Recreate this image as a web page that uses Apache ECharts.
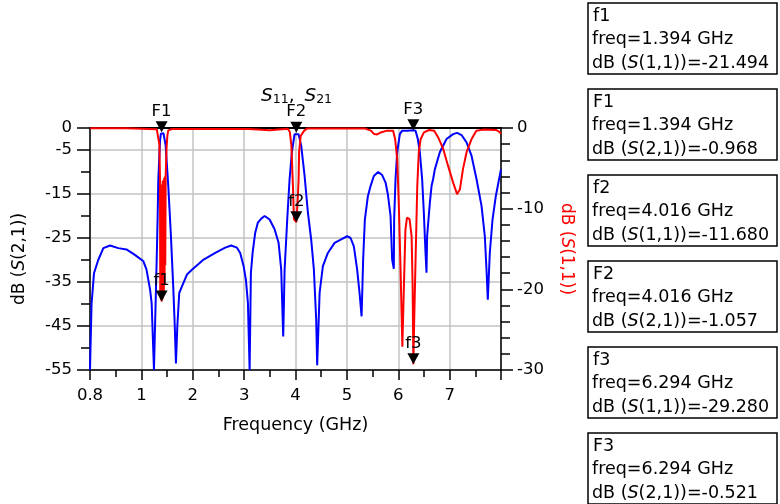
<!DOCTYPE html>
<html><head><meta charset="utf-8">
<script src="https://cdn.jsdelivr.net/npm/echarts@6/dist/echarts.min.js"></script>
<style>html,body{margin:0;padding:0;background:#fff}#c{width:780px;height:504px}</style>
</head><body><div id="c"></div>
<script>
const FONT = 'DejaVu Sans';
const xTickLabels = ['0.8','1','2','3','4','5','6','7',''];

// dB(S(2,1)) - blue, left axis
const s21Freq = [0,0.03,0.078,0.16,0.26,0.39,0.55,0.71,0.88,1.04,1.10,1.17,1.20,1.245,1.265,1.298,1.317,1.329,1.362,1.38,1.394,1.43,1.45,1.473,1.525,1.573,1.62,1.65,1.673,1.70,1.737,1.79,1.887,1.984,2.212,2.438,2.632,2.749,2.86,2.924,2.99,3.035,3.074,3.107,3.132,3.165,3.216,3.268,3.333,3.399,3.496,3.593,3.671,3.722,3.761,3.788,3.839,3.885,3.93,3.982,4.016,4.06,4.111,4.177,4.241,4.305,4.358,4.403,4.422,4.469,4.533,4.63,4.761,4.889,5.006,5.072,5.136,5.2,5.247,5.286,5.317,5.35,5.409,5.461,5.525,5.609,5.687,5.753,5.798,5.85,5.881,5.914,5.92,5.947,5.979,6.031,6.076,6.173,6.294,6.337,6.381,6.42,6.465,6.498,6.531,6.55,6.562,6.615,6.648,6.679,6.712,6.809,6.94,7.068,7.146,7.232,7.33,7.426,7.523,7.621,7.685,7.718,7.743,7.782,7.835,7.899,7.963,8.0];
const s21Db = [-55,-40,-33,-30,-27.3,-26.7,-27.3,-27.6,-28.9,-30.3,-32.2,-36.8,-39.8,-55,-55,-30,-20,-12,-3,-1.3,-0.968,-1.2,-1.6,-4,-13.5,-24,-36,-45,-53.5,-45,-37.5,-36,-33.3,-32.2,-29.9,-28.4,-27.2,-26.7,-27.2,-28.4,-31.4,-34.5,-39.8,-55,-32.9,-28.4,-23.8,-21.5,-20.6,-20.0,-20.8,-23,-26.1,-32.2,-47.4,-32.2,-20.8,-11.6,-5.5,-1.4,-1.057,-1.4,-4,-10.9,-19.2,-25.3,-32.2,-43.6,-53.9,-37.5,-31.4,-28.4,-26.1,-25.3,-24.6,-25,-26.9,-32.2,-37.5,-42.8,-29.9,-20.8,-15.5,-13.2,-10.9,-10.0,-10.7,-12.4,-15.1,-20,-29.9,-32,-20.8,-11.6,-5.5,-1.4,-0.6,-0.6,-0.521,-0.6,-2.5,-5.5,-11.6,-19.2,-28.4,-32.9,-24.6,-17,-13.2,-11.6,-9.4,-5.5,-2.5,-1.4,-1.1,-1.6,-3.3,-6.3,-11.6,-17.7,-24.6,-32.2,-39,-28.4,-20.8,-15.5,-11.6,-9.4];

// dB(S(1,1)) - red, right axis
const s11Freq = [0,0.70,0.72,1.30,1.33,1.35,1.362,1.368,1.374,1.38,1.387,1.394,1.401,1.408,1.415,1.422,1.43,1.437,1.444,1.451,1.458,1.465,1.473,1.49,1.505,1.523,1.60,3.09,3.11,3.50,3.53,3.85,3.89,3.92,3.95,3.97,3.995,4.016,4.04,4.06,4.07,4.10,4.17,4.23,5.35,5.41,5.47,5.53,5.59,5.66,5.78,5.90,5.94,5.98,6.01,6.045,6.08,6.09,6.11,6.14,6.17,6.22,6.26,6.28,6.294,6.31,6.34,6.37,6.40,6.435,6.50,6.60,6.70,6.78,6.875,6.97,7.07,7.145,7.20,7.26,7.33,7.425,7.52,7.65,7.91,7.98,8.0];
const s11Db = [-0.03,-0.03,-0.12,-0.15,-0.3,-2,-6,-21,-7,-21.3,-7,-21.494,-7,-21.3,-6.5,-21,-6.5,-20.5,-6.2,-19.5,-6,-17,-6,-2.5,-1,-0.3,-0.12,-0.12,-0.28,-0.28,-0.05,-0.1,-0.5,-2.2,-7.2,-11.3,-11.5,-11.68,-9.3,-6.4,-3.0,-1.0,-0.33,-0.05,-0.05,-0.2,-0.33,-0.75,-0.8,-0.55,-0.33,-0.35,-1.4,-3.9,-9.3,-17.6,-27.1,-27.3,-19.6,-12.6,-11.1,-11.3,-13.4,-19.6,-29.28,-24,-15.5,-7.2,-3.0,-1.4,-0.55,-0.25,-0.33,-1.2,-2.6,-4.7,-6.8,-8.2,-7.6,-5.1,-3.0,-1.4,-0.33,-0.2,-0.25,-0.55,-0.7];

// markers
const markerNames = ['f1','F1','f2','F2','f3','F3'];
const markerFreq = [1.394,1.394,4.016,4.016,6.294,6.294];
const markerDb = [-21.494,-0.968,-11.680,-1.057,-29.280,-0.521];
const markerTrace = ['(1,1)','(2,1)','(1,1)','(2,1)','(1,1)','(2,1)'];

const zip = (a,b) => a.map((v,i)=>[v,b[i]]);

function markPts(trace){
  const out = [];
  markerNames.forEach((n,i)=>{
    if (markerTrace[i] !== trace) return;
    out.push({
      name:n, coord:[markerFreq[i], markerDb[i]],
      symbol:'path://M0,0 L12,0 L6,11 Z', symbolSize:[12,11], symbolOffset:[0,-5.5],
      itemStyle:{color:'#000'},
      label:{show:true, position:'top', distance:1, formatter:n, color:'#000', fontSize:16.5, fontFamily:FONT}
    });
  });
  return out;
}

const axisLineStyle = {color:'#000', width:1.5};
const txt = {color:'#000', fontFamily:FONT, fontSize:16.5};

const boxes = markerNames.map((n,k)=>({
  type:'group', x:588, y:3+86*k, children:[
    {type:'rect', shape:{x:0,y:0,width:189,height:71}, style:{fill:'#fff', stroke:'#000', lineWidth:1.5}},
    {type:'text', x:5, y:13, style:{text:n, fill:'#000', font:'17.5px "DejaVu Sans"', verticalAlign:'middle'}},
    {type:'text', x:4, y:36, style:{text:'freq=' + markerFreq[k].toFixed(3) + ' GHz', fill:'#000', font:'17.5px "DejaVu Sans"', verticalAlign:'middle'}},
    {type:'text', x:4, y:60, style:{
      text:'{n|dB (}{i|S}{n|' + markerTrace[k] + ')=' + markerDb[k].toFixed(3) + '}',
      verticalAlign:'middle',
      rich:{n:{fontSize:17.5, fontFamily:FONT, fill:'#000'}, i:{fontSize:17.5, fontFamily:FONT, fontStyle:'italic', fill:'#000'}}
    }}
  ]
}));

const chart = echarts.init(document.getElementById('c'));
chart.setOption({
  animation:false,
  backgroundColor:'#fff',
  title:{
    text:'{s|S}{n|11}{c|, }{s|S}{n|21}', left:256, top:82,
    textStyle:{fontWeight:'normal', rich:{
      s:{fontSize:18.5, fontStyle:'italic', fontWeight:'normal', fontFamily:FONT, color:'#000'},
      n:{fontSize:12.5, fontWeight:'normal', fontFamily:FONT, color:'#000', verticalAlign:'bottom'},
      c:{fontSize:18.5, fontWeight:'normal', fontFamily:FONT, color:'#000', padding:[0,4,0,0]}
    }}
  },
  grid:{left:90, right:279, top:128, bottom:134},
  xAxis:[{
    type:'value', min:0, max:8, interval:1, position:'bottom',
    name:'Frequency (GHz)', nameLocation:'middle', nameGap:46,
    nameTextStyle:{color:'#000', fontFamily:FONT, fontSize:17.5},
    axisLine:{show:true, onZero:false, lineStyle:axisLineStyle},
    axisTick:{show:true, inside:false, length:10, lineStyle:axisLineStyle},
    minorTick:{show:true, splitNumber:2, length:7, lineStyle:axisLineStyle},
    axisLabel:Object.assign({margin:17, formatter:v=>xTickLabels[Math.round(v)] || ''}, txt),
    splitLine:{show:true, lineStyle:{color:'#c3c3c3', width:1.5}},
    minorSplitLine:{show:false}
  },{
    type:'value', min:0, max:8, position:'top',
    axisLine:{show:true, onZero:false, lineStyle:{color:'#000', width:2}},
    axisTick:{show:false}, minorTick:{show:false}, axisLabel:{show:false}, splitLine:{show:false}
  }],
  yAxis:[{
    type:'value', min:-55, max:0, interval:10, position:'left',
    name:'{n|dB (}{i|S}{n|(2,1))}', nameLocation:'middle', nameGap:62, nameRotate:90,
    nameTextStyle:{padding:[0,20,0,0], rich:{n:{fontSize:17, fontFamily:FONT, color:'#000'}, i:{fontSize:17, fontFamily:FONT, fontStyle:'italic', color:'#000'}}},
    axisLine:{show:true, onZero:false, lineStyle:axisLineStyle},
    axisTick:{show:true, inside:false, length:13, lineStyle:axisLineStyle},
    minorTick:{show:true, splitNumber:2, length:9, lineStyle:axisLineStyle},
    axisLabel:Object.assign({margin:18}, txt),
    splitLine:{show:true, lineStyle:{color:'#c3c3c3', width:1.5}}
  },{
    type:'value', min:-30, max:0, interval:10, position:'right',
    name:'{n|dB (}{i|S}{n|(1,1))}', nameLocation:'middle', nameGap:57, nameRotate:-90,
    nameTextStyle:{rich:{n:{fontSize:17, fontFamily:FONT, color:'#ff0000'}, i:{fontSize:17, fontFamily:FONT, fontStyle:'italic', color:'#ff0000'}}},
    axisLine:{show:true, onZero:false, lineStyle:axisLineStyle},
    axisTick:{show:true, inside:false, length:12, lineStyle:axisLineStyle},
    minorTick:{show:true, splitNumber:5, length:9, lineStyle:axisLineStyle},
    axisLabel:Object.assign({margin:16}, txt),
    splitLine:{show:false}
  }],
  series:[{
    name:'dB(S(2,1))', type:'line', xAxisIndex:0, yAxisIndex:0,
    data:zip(s21Freq, s21Db), showSymbol:false, symbol:'none',
    lineStyle:{color:'#0000ff', width:2}, itemStyle:{color:'#0000ff'},
    markPoint:{data:markPts('(2,1)')}, z:2
  },{
    name:'dB(S(1,1))', type:'line', xAxisIndex:0, yAxisIndex:1,
    data:zip(s11Freq, s11Db), showSymbol:false, symbol:'none',
    lineStyle:{color:'#ff0000', width:2}, itemStyle:{color:'#ff0000'},
    markPoint:{data:markPts('(1,1)')}, z:3
  }],
  graphic:boxes
});
</script></body></html>
